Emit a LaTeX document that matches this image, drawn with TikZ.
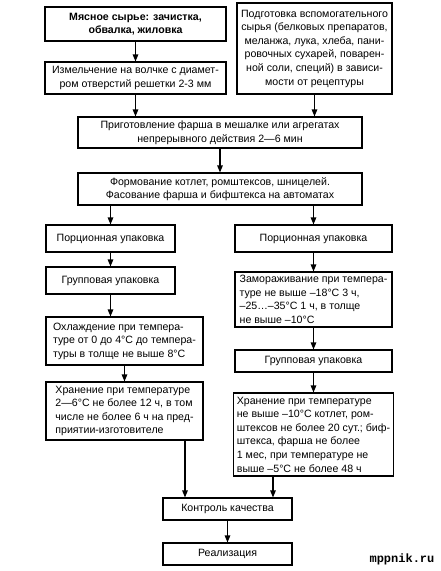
\documentclass[tikz,border=0pt]{standalone}
\usepackage{fontspec}
\setmainfont{Liberation Sans}
\setmonofont{Liberation Mono}
\usetikzlibrary{arrows.meta,positioning}

\tikzset{
  box/.style={draw, line width=1.1pt, inner xsep=3pt, inner ysep=0pt, align=center,
    font=\fontsize{10.6}{13.6}\selectfont},
  lbox/.style={box, align=left},
  arr/.style={line width=1.1pt, ->}
}

\begin{document}
\begin{tikzpicture}[x=1pt, y=-1pt, >={Triangle[length=7pt,width=5.5pt]}]

    \useasboundingbox (0,0) rectangle (441,571);

    %upper part

    \node [box, minimum width=181pt, minimum height=34pt, font=\fontsize{10.6}{13.6}\selectfont\bfseries] (meat) at (135.5,24) {Мясное сырье: зачистка,\\обвалка, жиловка};

        \node [box, minimum width=181pt, minimum height=32pt] (grind) at (135.5,78) {Измельчение на волчке с диамет-\\ром отверстий решетки 2-3 мм};
        \draw [arr] (meat) -- (grind);

    \node [box, minimum width=155pt, minimum height=91pt] (aux) at (314.5,48.5) {Подготовка вспомогательного\\сырья (белковых препаратов,\\меланжа, лука, хлеба, пани-\\ровочных сухарей, поварен-\\ной соли, специй) в зависи-\\мости от рецептуры};

        \node [box, minimum width=284pt, minimum height=31pt] (prep) at (220,132.5) {Приготовление фарша в мешалке или агрегатах\\непрерывного действия 2—6 мин};
        \draw [arr] (grind.south) -- (grind.south |- prep.north);
        \draw [arr] (aux.south) -- (aux.south |- prep.north);

        \node [box, minimum width=284pt, minimum height=32pt] (form) at (220,189) {Формование котлет, ромштексов, шницелей.\\Фасование фарша и бифштекса на автоматах};
        \draw [arr] (prep) -- (form);

    %left branch

        \node [box, minimum width=129pt, minimum height=27pt] (porcL) at (110.5,238.5) {Порционная упаковка};
        \draw [arr] (form.south -| porcL) -- (porcL);

        \node [box, minimum width=129pt, minimum height=27pt] (groupL) at (110.5,280.5) {Групповая упаковка};
        \draw [arr] (porcL) -- (groupL);

        \node [lbox, minimum width=157pt, minimum height=48pt] (cool) at (124.5,341) {Охлаждение при темпера-\\туре от 0 до 4°C до темпера-\\туры в толще не выше 8°C};
        \draw [arr] (groupL.south) -- (groupL.south |- cool.north);

        \node [lbox, minimum width=157pt, minimum height=58pt] (storeL) at (124.5,411) {Хранение при температуре\\2—6°C не более 12 ч, в том\\числе не более 6 ч на пред-\\приятии-изготовителе};
        \draw [arr] (cool) -- (storeL);

    %right branch

        \node [box, minimum width=157pt, minimum height=27pt] (porcR) at (313.5,238.5) {Порционная упаковка};
        \draw [arr] (form.south -| porcR) -- (porcR);

        \node [lbox, minimum width=157pt, minimum height=55pt] (freeze) at (313.5,299.5) {Замораживание при темпера-\\туре не выше –18°C 3 ч,\\–25…–35°C 1 ч, в толще\\не выше –10°C};
        \draw [arr] (porcR) -- (freeze);

        \node [box, minimum width=157pt, minimum height=22pt] (groupR) at (313.5,361) {Групповая упаковка};
        \draw [arr] (freeze) -- (groupR);

        \node [lbox, minimum width=157pt, minimum height=83pt] (storeR) at (313.5,434.5) {Хранение при температуре\\не выше –10°C котлет, ром-\\штексов не более 20 сут.; биф-\\штекса, фарша не более\\1 мес, при температуре не\\выше –5°C не более 48 ч};
        \draw [arr] (groupR) -- (storeR);

    %bottom

        \node [box, minimum width=129pt, minimum height=22pt] (control) at (227.5,509) {Контроль качества};
        \draw [arr] ([xshift=60.5pt]storeL.south) -- ([xshift=60.5pt]storeL.south |- control.north);
        \draw [arr] ([xshift=-40.5pt]storeR.south) -- ([xshift=-40.5pt]storeR.south |- control.north);

        \node [box, minimum width=129pt, minimum height=22pt] (real) at (227.5,554) {Реализация};
        \draw [arr] (control) -- (real);

        \node [font=\ttfamily\bfseries\fontsize{12}{12}\selectfont] (mark) at (402,559) {mppnik.ru};
\end{tikzpicture}
\end{document}
